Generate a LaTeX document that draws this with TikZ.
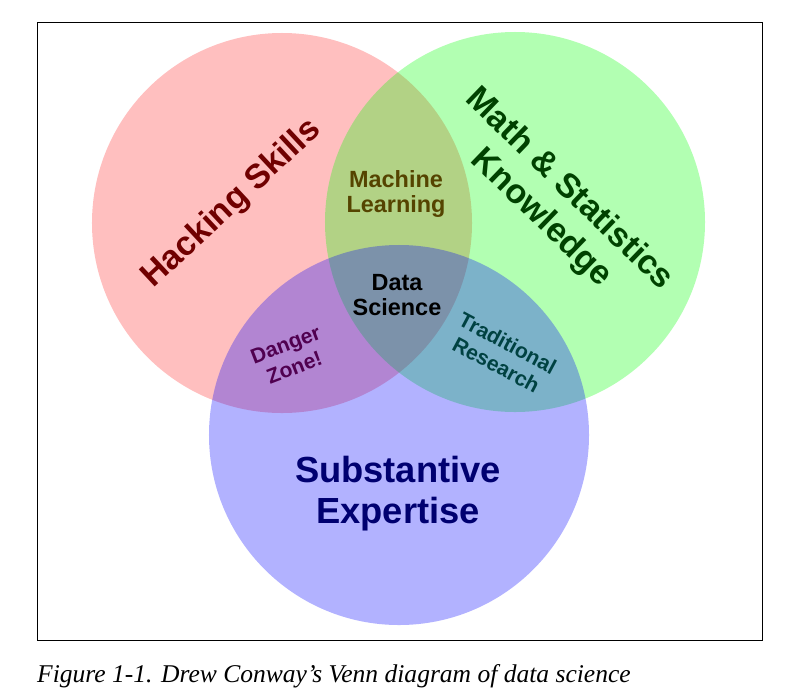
\documentclass[tikz,border=0pt]{standalone}
\usepackage{fontspec}
\setsansfont{Liberation Sans}
\setmainfont{Liberation Serif}
\definecolor{hackred}{RGB}{112,0,0}
\definecolor{mathgreen}{RGB}{0,66,0}
\definecolor{mlbrown}{RGB}{85,68,0}
\definecolor{dangerpurple}{RGB}{80,0,80}
\definecolor{tradteal}{RGB}{0,66,66}
\definecolor{subnavy}{RGB}{0,0,112}
\tikzset{
  vlabel/.style={align=center, inner sep=0pt},
  big/.style={font=\sffamily\bfseries\fontsize{29}{34}\selectfont},
  mid/.style={font=\sffamily\bfseries\fontsize{20}{21.5}\selectfont},
  small/.style={font=\sffamily\bfseries\fontsize{18}{21}\selectfont}
}
\begin{document}
\begin{tikzpicture}[x=0.03cm, y=-0.03cm]
  \useasboundingbox (0,0) rectangle (787,695);
  \draw [line width=0.8pt] (37,22) rectangle (762,640);
  % the three circles
  \fill [red, fill opacity=0.25] (282,223) circle [radius=5.7cm];
  \fill [green, fill opacity=0.3] (515,222) circle [radius=5.7cm];
  \fill [blue, fill opacity=0.3] (399,435) circle [radius=5.7cm];
  % labels
  \node (hacking) [vlabel, big, hackred, rotate=43] at (232,204) {Hacking Skills};
  \node (math) [vlabel, big, mathgreen, rotate=-44] at (555,204) {Math \& Statistics\\Knowledge};
  \node (ml) [vlabel, mid, mlbrown] at (396,194) {Machine\\Learning};
  \node (ds) [vlabel, mid, black] at (397,295) {Data\\Science};
  \node (danger) [vlabel, small, dangerpurple, rotate=21] at (290,356) {Danger\\Zone!};
  \node (trad) [vlabel, small, tradteal, rotate=-28] at (502,354) {Traditional\\Research};
  \node (subst) [vlabel, subnavy, font=\sffamily\bfseries\fontsize{31}{35}\selectfont] at (398,494) {Substantive\\Expertise};
  \node (caption) [anchor=base west, inner sep=0pt, font=\itshape\fontsize{21.8}{26}\selectfont] at (37,682) {Figure 1-1. Drew Conway’s Venn diagram of data science};
\end{tikzpicture}
\end{document}
